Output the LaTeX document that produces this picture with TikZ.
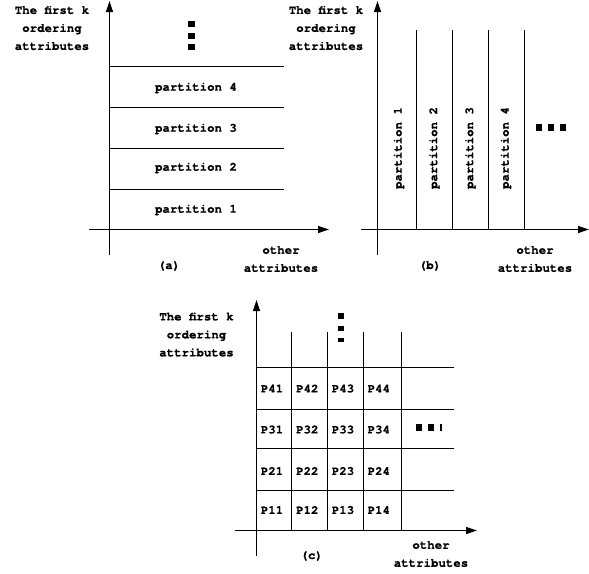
\documentclass[tikz,border=0pt]{standalone}
\usepackage{fontspec}
\setmainfont{TeX Gyre Cursor}[BoldFeatures={FakeBold=0.5}]
\usetikzlibrary{arrows.meta}
\begin{document}
\begin{tikzpicture}[x=1pt,y=-1pt,
  ax/.style={line width=1.2pt,-{Triangle[length=11pt,width=7pt]}},
  ln/.style={line width=1.2pt},
  lbl/.style={inner sep=0pt,font=\fontsize{12.4}{18}\selectfont\bfseries,align=center},
  dot/.style={fill=black}]
\useasboundingbox (0,0) rectangle (589,573);

% ---------- (a) horizontal partitions ----------
\coordinate (ay0) at (109.5,255);
\coordinate (ay1) at (109.5,1);
\coordinate (ax0) at (89,229.5);
\coordinate (ax1) at (329,229.5);
\draw[ax] (ay0) -- (ay1);
\draw[ax] (ax0) -- (ax1);
\foreach \y in {66.5,107.5,148.5,189.5}
  \draw[ln] (109.5,\y) -- (284,\y);
\foreach \y/\t in {88/4,129/3,168/2,210/1}
  \node[lbl] (pa\t) at (196,\y) {partition \t};
\foreach \y in {24,35.5,47}
  \fill[dot] (187.5,\y-3) rectangle (194.5,\y+3);
\node[lbl] (aylab) at (52,28) {The first k\\ordering\\attributes};
\node[lbl] (axlab) at (281,259) {other\\attributes};
\node[lbl] (acap) at (169,266) {(a)};

% ---------- (b) vertical partitions ----------
\coordinate (by0) at (377.5,255);
\coordinate (by1) at (377.5,1);
\coordinate (bx0) at (361,229.5);
\coordinate (bx1) at (589,229.5);
\draw[ax] (by0) -- (by1);
\draw[ax] (bx0) -- (bx1);
\foreach \x in {416.5,452.5,488.5,524.5}
  \draw[ln] (\x,30) -- (\x,229.5);
\foreach \x/\t in {399/1,434.5/2,470.5/3,506/4}
  \node[lbl,rotate=90] (pb\t) at (\x,148) {partition \t};
\foreach \x in {539,551.3,563}
  \fill[dot] (\x-3,123.5) rectangle (\x+3,130.5);
\node[lbl] (bylab) at (326,28) {The first k\\ordering\\attributes};
\node[lbl] (bxlab) at (535,259) {other\\attributes};
\node[lbl] (bcap) at (430,266) {(b)};

% ---------- (c) grid of partitions ----------
\coordinate (cy0) at (256.5,556);
\coordinate (cy1) at (256.5,300);
\coordinate (cx0) at (235,530.5);
\coordinate (cx1) at (477,530.5);
\draw[ax] (cy0) -- (cy1);
\draw[ax] (cx0) -- (cx1);
\foreach \x in {291.5,327.5,363.5,401.5}
  \draw[ln] (\x,331.7) -- (\x,530.5);
\foreach \y in {367.5,409.5,448.5,490.5}
  \draw[ln] (256.5,\y) -- (454,\y);
\foreach \r/\y in {4/388.5,3/429.5,2/471,1/510}
  \foreach \c/\x in {1/260.7,2/296,3/331.7,4/367.5}
    \node[lbl,anchor=west] (p\r\c) at (\x,\y) {P\r\c};
% continuation marks
\fill[dot] (338.3,313.3) rectangle (344.3,318.5);
\fill[dot] (338.3,326) rectangle (344.3,331.2);
\fill[dot] (338.3,338.3) rectangle (344.3,342);
\fill[dot] (416,424) rectangle (421.7,430.5);
\fill[dot] (428.3,424) rectangle (434,430.5);
\fill[dot] (440,424) rectangle (442,430.5);
\node[lbl] (cylab) at (196.5,334.5) {The first k\\ordering\\attributes};
\node[lbl] (cxlab) at (431,554) {other\\attributes};
\node[lbl] (ccap) at (311.7,556) {(c)};
\end{tikzpicture}
\end{document}
